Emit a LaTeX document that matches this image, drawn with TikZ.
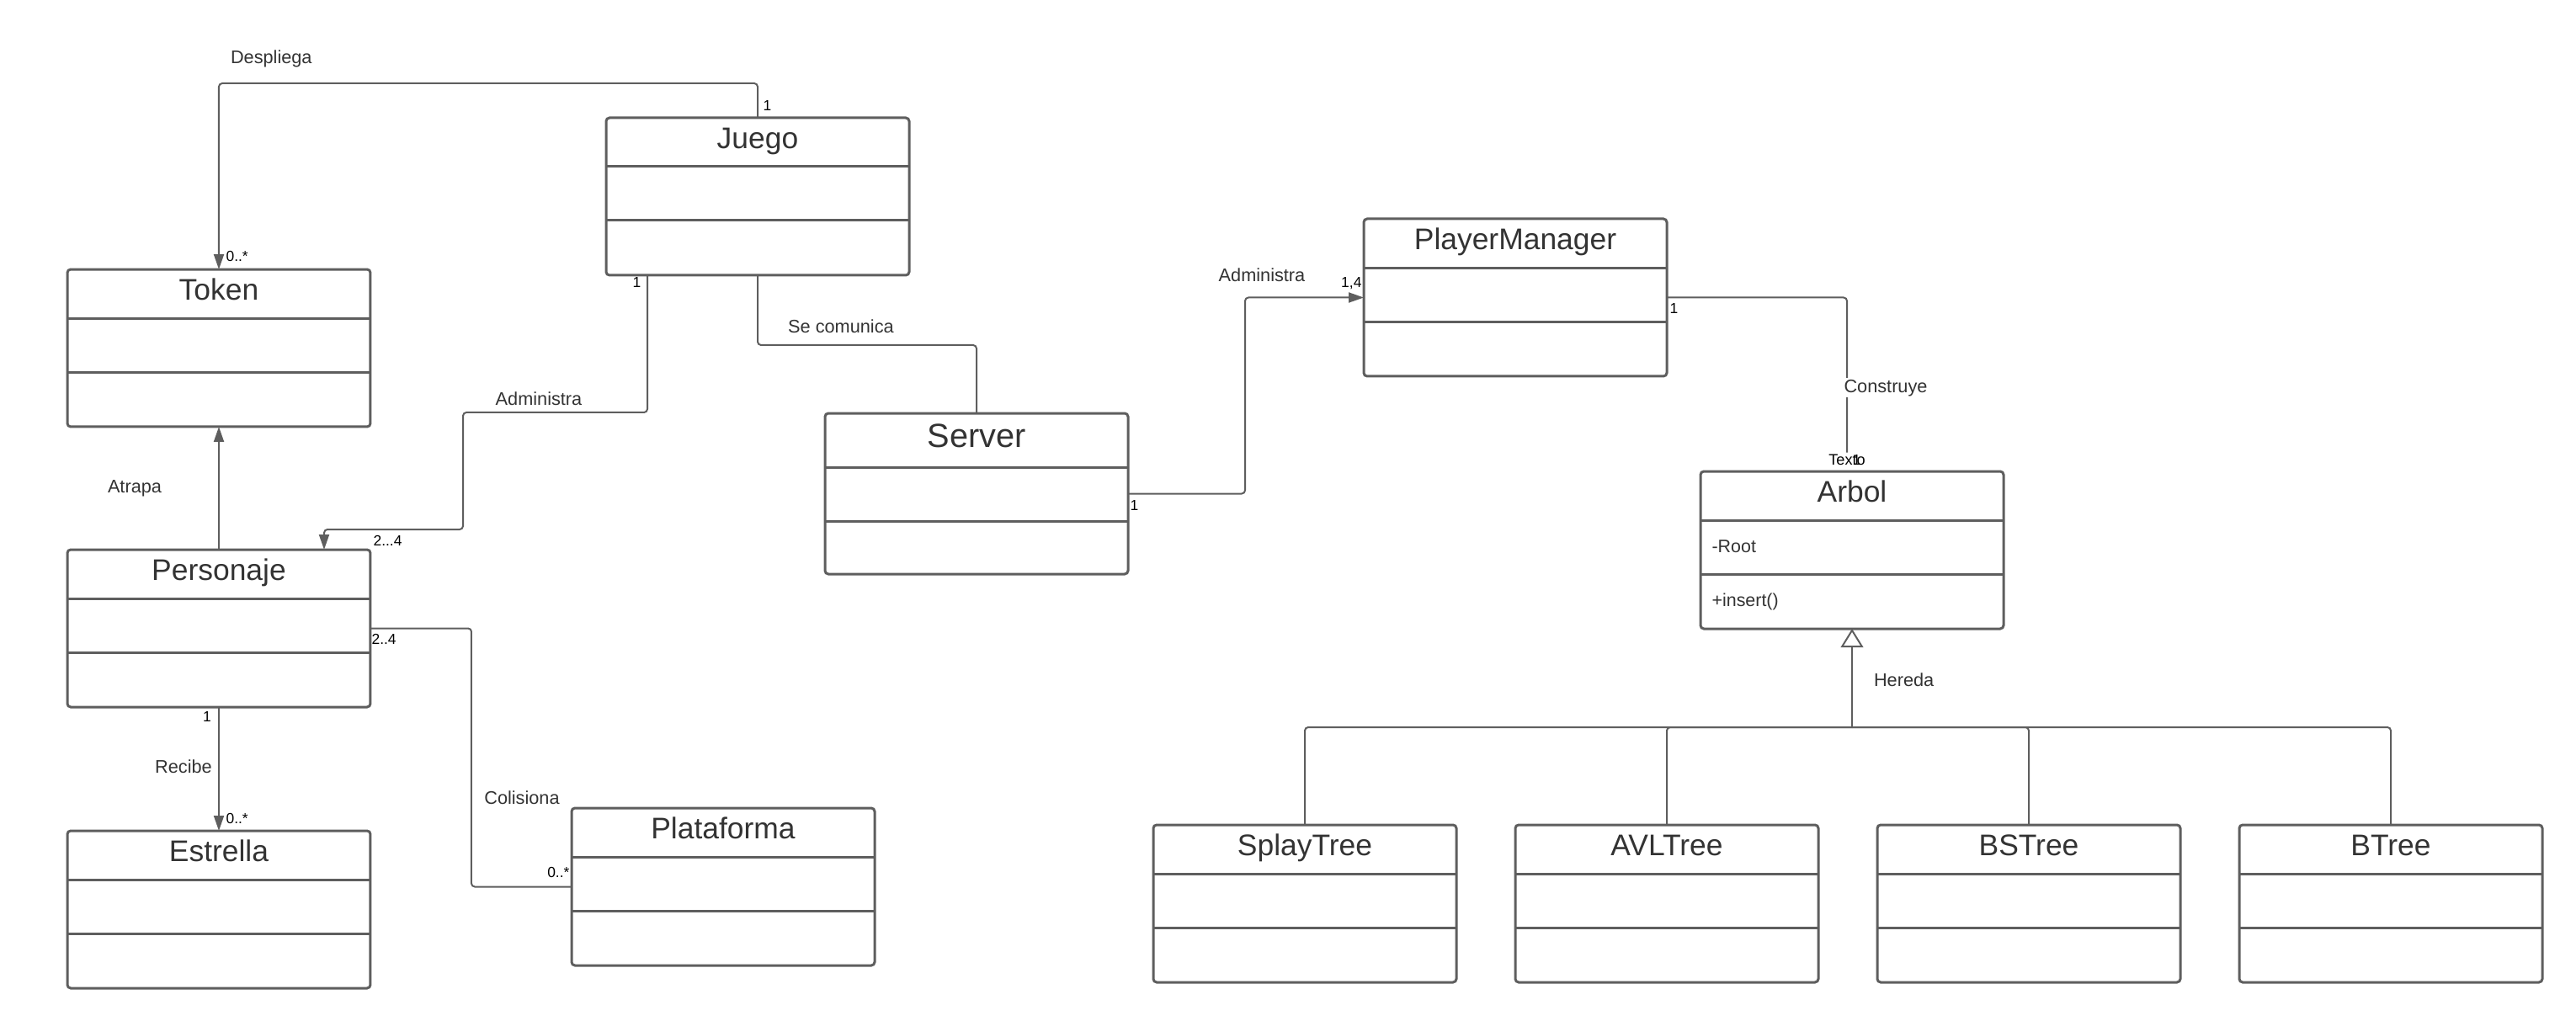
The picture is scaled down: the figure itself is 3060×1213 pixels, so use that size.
\documentclass[tikz,border=0pt]{standalone}
\usepackage{fontspec}
\setmainfont{Liberation Sans}
\usetikzlibrary{arrows.meta,calc}
\definecolor{linegray}{RGB}{94,94,94}
\definecolor{textgray}{RGB}{51,51,51}

\begin{document}
\begin{tikzpicture}[x=0.35pt,y=0.35pt,yscale=-1,xscale=1,
  classbox/.style={draw=linegray,line width=1.05pt,rounded corners=1.4pt,minimum width=126pt,minimum height=65.45pt,anchor=north west,inner sep=0pt,outer sep=0pt},
  classtitle/.style={text=textgray,font=\fontsize{12.4}{14}\selectfont,anchor=base,inner sep=0pt},
  classsep/.style={draw=linegray,line width=1.05pt},
  member/.style={text=textgray,font=\fontsize{7.5}{9}\selectfont,anchor=base west,inner sep=0pt},
  rolelabel/.style={text=textgray,font=\fontsize{7.6}{9}\selectfont,anchor=base,inner sep=0.5pt},
  multlabel/.style={text=black,font=\fontsize{6.1}{7}\selectfont,anchor=base west,inner sep=0pt},
  assoc/.style={draw=linegray,line width=0.7pt,rounded corners=1.4pt},
  navig/.style={assoc,-{Triangle[length=6.3pt,width=4.2pt,fill=linegray]}},
  herencia/.style={assoc,-{Triangle[open,length=7.7pt,width=9.3pt]}}]
\useasboundingbox (0,0) rectangle (3060,1213);

%Shape: Class [Token]
\node[classbox] (token) at (80,320) {};
\node[classtitle] (token-title) at ($(token.north)+(0,36.7)$) {Token};
\draw[classsep] ($(token.north west)+(0,58)$) -- ($(token.north east)+(0,58)$);
\draw[classsep] ($(token.north west)+(0,122)$) -- ($(token.north east)+(0,122)$);

%Shape: Class [Juego]
\node[classbox] (juego) at (720,140) {};
\node[classtitle] (juego-title) at ($(juego.north)+(0,36.7)$) {Juego};
\draw[classsep] ($(juego.north west)+(0,58)$) -- ($(juego.north east)+(0,58)$);
\draw[classsep] ($(juego.north west)+(0,122)$) -- ($(juego.north east)+(0,122)$);

%Shape: Class [Personaje]
\node[classbox] (personaje) at (80,653) {};
\node[classtitle] (personaje-title) at ($(personaje.north)+(0,36.7)$) {Personaje};
\draw[classsep] ($(personaje.north west)+(0,58)$) -- ($(personaje.north east)+(0,58)$);
\draw[classsep] ($(personaje.north west)+(0,122)$) -- ($(personaje.north east)+(0,122)$);

%Shape: Class [Estrella]
\node[classbox] (estrella) at (80,987) {};
\node[classtitle] (estrella-title) at ($(estrella.north)+(0,36.7)$) {Estrella};
\draw[classsep] ($(estrella.north west)+(0,58)$) -- ($(estrella.north east)+(0,58)$);
\draw[classsep] ($(estrella.north west)+(0,122)$) -- ($(estrella.north east)+(0,122)$);

%Shape: Class [Plataforma]
\node[classbox] (plataforma) at (679,960) {};
\node[classtitle] (plataforma-title) at ($(plataforma.north)+(0,36.7)$) {Plataforma};
\draw[classsep] ($(plataforma.north west)+(0,58)$) -- ($(plataforma.north east)+(0,58)$);
\draw[classsep] ($(plataforma.north west)+(0,122)$) -- ($(plataforma.north east)+(0,122)$);

%Shape: Class [Server]
\node[classbox,minimum height=66.85pt] (server) at (980,491) {};
\node[classtitle,font=\fontsize{13.9}{16}\selectfont] (server-title) at ($(server.north)+(0,40.7)$) {Server};
\draw[classsep] ($(server.north west)+(0,64)$) -- ($(server.north east)+(0,64)$);
\draw[classsep] ($(server.north west)+(0,128)$) -- ($(server.north east)+(0,128)$);

%Shape: Class [PlayerManager]
\node[classbox] (playermanager) at (1620,260) {};
\node[classtitle] (playermanager-title) at ($(playermanager.north)+(0,36.7)$) {PlayerManager};
\draw[classsep] ($(playermanager.north west)+(0,58)$) -- ($(playermanager.north east)+(0,58)$);
\draw[classsep] ($(playermanager.north west)+(0,122)$) -- ($(playermanager.north east)+(0,122)$);

%Shape: Class [Arbol]
\node[classbox] (arbol) at (2020,560) {};
\node[classtitle] (arbol-title) at ($(arbol.north)+(0,36.7)$) {Arbol};
\draw[classsep] ($(arbol.north west)+(0,58)$) -- ($(arbol.north east)+(0,58)$);
\draw[classsep] ($(arbol.north west)+(0,122)$) -- ($(arbol.north east)+(0,122)$);
\node[member] (arbol-attr) at ($(arbol.north west)+(13,96)$) {-Root};
\node[member] (arbol-op) at ($(arbol.north west)+(13,160)$) {+insert()};

%Shape: Class [SplayTree]
\node[classbox] (splaytree) at (1370,980) {};
\node[classtitle] (splaytree-title) at ($(splaytree.north)+(0,36.7)$) {SplayTree};
\draw[classsep] ($(splaytree.north west)+(0,58)$) -- ($(splaytree.north east)+(0,58)$);
\draw[classsep] ($(splaytree.north west)+(0,122)$) -- ($(splaytree.north east)+(0,122)$);

%Shape: Class [AVLTree]
\node[classbox] (avltree) at (1800,980) {};
\node[classtitle] (avltree-title) at ($(avltree.north)+(0,36.7)$) {AVLTree};
\draw[classsep] ($(avltree.north west)+(0,58)$) -- ($(avltree.north east)+(0,58)$);
\draw[classsep] ($(avltree.north west)+(0,122)$) -- ($(avltree.north east)+(0,122)$);

%Shape: Class [BSTree]
\node[classbox] (bstree) at (2230,980) {};
\node[classtitle] (bstree-title) at ($(bstree.north)+(0,36.7)$) {BSTree};
\draw[classsep] ($(bstree.north west)+(0,58)$) -- ($(bstree.north east)+(0,58)$);
\draw[classsep] ($(bstree.north west)+(0,122)$) -- ($(bstree.north east)+(0,122)$);

%Shape: Class [BTree]
\node[classbox] (btree) at (2660,980) {};
\node[classtitle] (btree-title) at ($(btree.north)+(0,36.7)$) {BTree};
\draw[classsep] ($(btree.north west)+(0,58)$) -- ($(btree.north east)+(0,58)$);
\draw[classsep] ($(btree.north west)+(0,122)$) -- ($(btree.north east)+(0,122)$);

% Text Node
\node[text=black,font=\fontsize{6.35}{8}\selectfont,anchor=base,inner sep=0.5pt] (texto) at (2194,552) {Texto};

%Connectors
\draw[navig] (juego.north) -- ++(0,-41) -| (token.north);
\draw[navig] (personaje.north) -- (token.south);
\draw[navig] ($(juego.south west)+(49,0)$) -- ++(0,163) -- ++(-219,0) -- ++(0,139) -| ($(personaje.north west)+(305,0)$);
\draw[assoc] (juego.south) -- ++(0,83) -| (server.north);
\draw[navig] (personaje.south) -- (estrella.north);
\draw[assoc] (personaje.east) -- ++(120,0) |- (plataforma.west);
\draw[navig] (server.east) -- ++(139,0) |- (playermanager.west);
\draw[assoc] (playermanager.east) -| (texto.north);
\coordinate (bus) at ($(arbol.south)+(0,117)$);
\draw[herencia] (bus) -- (arbol.south);
\draw[assoc] (splaytree.north) |- (bus);
\draw[assoc] (avltree.north) |- (bus);
\draw[assoc] (bstree.north) |- (bus);
\draw[assoc] (btree.north) |- (bus);

% Text Node
\node[rolelabel,anchor=base west] (lbl-despliega) at (272,76) {Despliega};
\node[rolelabel] (lbl-atrapa) at (160,585) {Atrapa};
\node[rolelabel] (lbl-administra) at (640,481) {Administra};
\node[rolelabel] (lbl-secomunica) at (999,395) {Se comunica};
\node[rolelabel] (lbl-recibe) at (218,918) {Recibe};
\node[rolelabel] (lbl-colisiona) at (620,955) {Colisiona};
\node[rolelabel] (lbl-administra2) at (1499,335) {Administra};
\node[rolelabel,fill=white] (lbl-construye) at (2240,466) {Construye};
\node[rolelabel,anchor=base west] (lbl-hereda) at (2224,815) {Hereda};
% Text Node
\node[multlabel] (m-juego-top) at (906,132) {1};
\node[multlabel] (m-token) at (268,310) {0..*};
\node[multlabel] (m-juego-bot) at (751,342) {1};
\node[multlabel] (m-personaje-top) at (443,648) {2...4};
\node[multlabel,anchor=base] (m-personaje-bot) at (246,857) {1};
\node[multlabel] (m-estrella) at (268,978) {0..*};
\node[multlabel] (m-personaje-right) at (441,765) {2..4};
\node[multlabel,anchor=base east] (m-plataforma) at (677,1042) {0..*};
\node[multlabel] (m-server) at (1342,606) {1};
\node[multlabel,anchor=base east] (m-playermanager-left) at (1618,342) {1,4};
\node[multlabel] (m-playermanager-right) at (1983,372) {1};
\node[multlabel] (m-arbol) at (2200,552) {1};

\end{tikzpicture}
\end{document}
